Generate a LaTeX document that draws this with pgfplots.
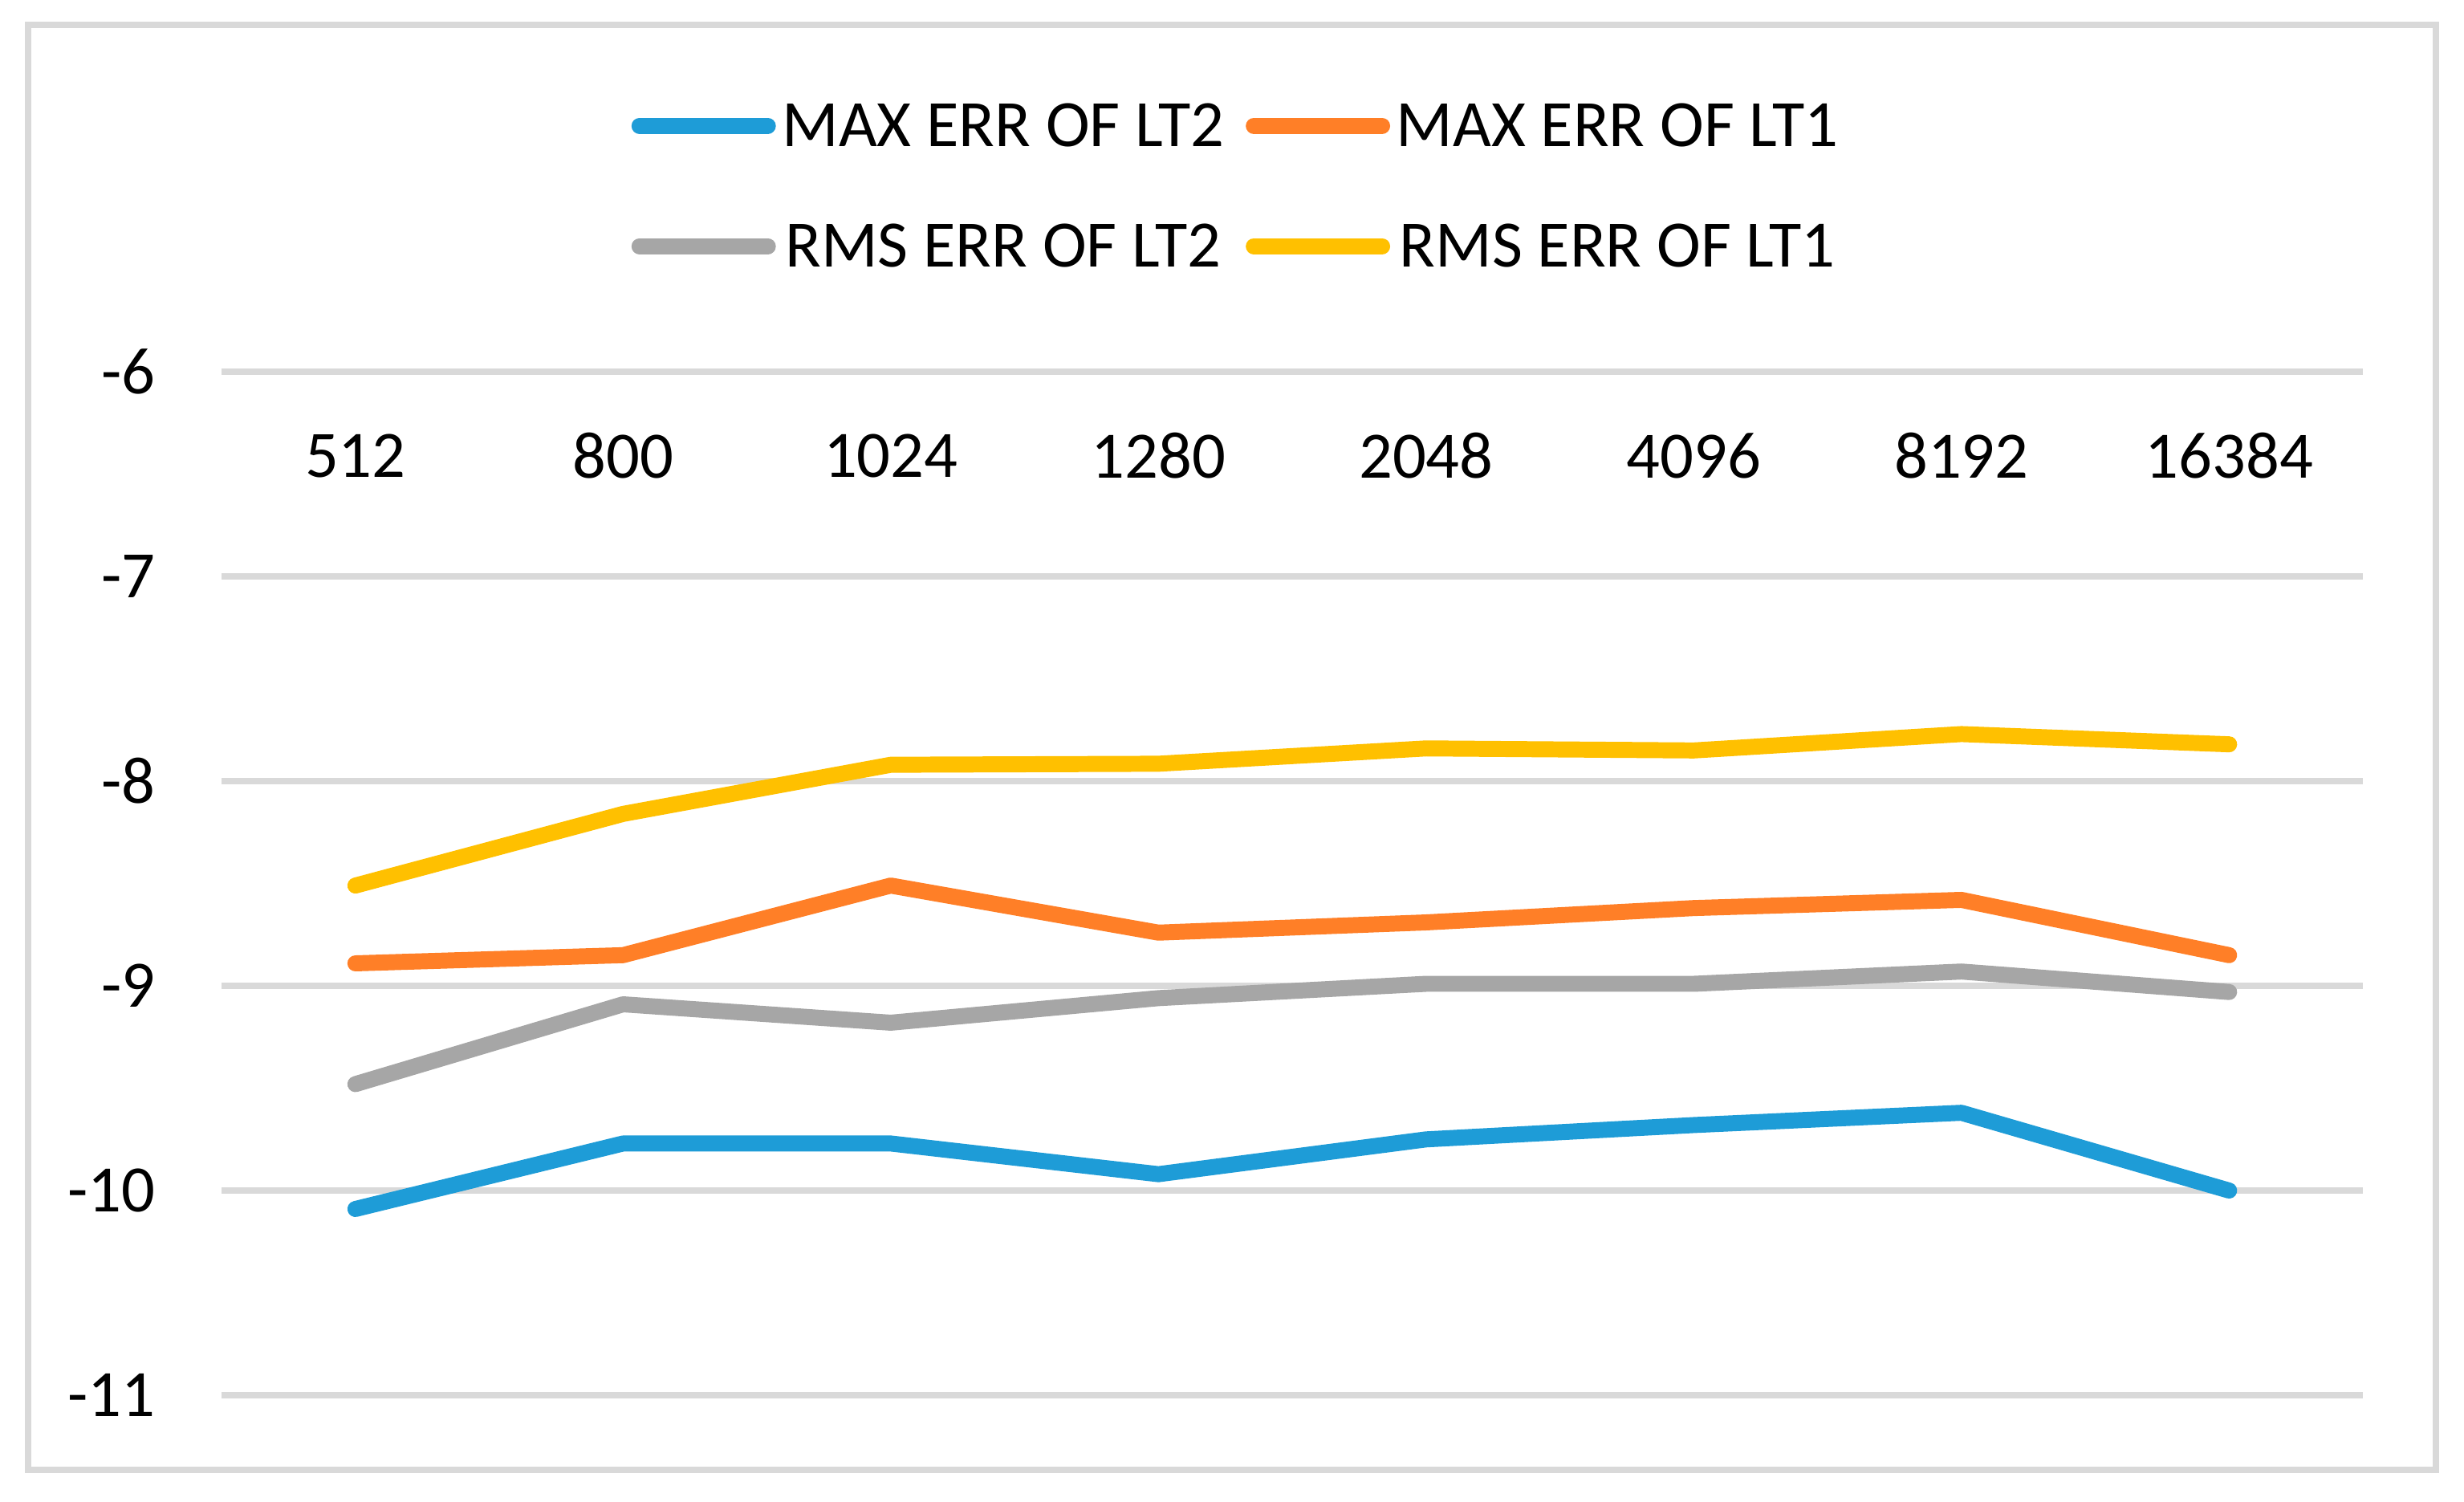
\documentclass[border=0pt]{standalone}
\usepackage{fontspec}
\setmainfont{Carlito}
\usepackage{pgfplots}
\pgfplotsset{compat=1.18}
\definecolor{cblue}{HTML}{1E9CD7}
\definecolor{corange}{HTML}{FF7F27}
\definecolor{cgray}{HTML}{A6A6A6}
\definecolor{cyellow}{HTML}{FFC000}
\definecolor{cgrid}{HTML}{D9D9D9}

\begin{document}
\begin{tikzpicture}
\useasboundingbox (-1.410cm,-0.679cm) rectangle (14.270cm,8.877cm);
\draw[cgrid, line width=1.1pt] (-1.231cm,-0.475cm) rectangle (14.092cm,8.718cm);
\begin{axis}[
  name=ax, at={(0,0)}, anchor=south west,
  scale only axis, width=13.627cm, height=6.512cm,
  xmin=-0.5, xmax=7.5, ymin=-11, ymax=-6,
  xtick={0,...,7},
  xticklabels={512,800,1024,1280,2048,4096,8192,16384},
  ytick={-11,-10,-9,-8,-7,-6},
  yticklabels={-11,-10,-9,-8,-7,-6},
  xticklabel pos=upper,
  axis line style={draw=none},
  major tick length=0pt,
  ymajorgrids, grid style={cgrid, line width=1.1pt},
  tick label style={font=\fontsize{12}{14}\selectfont, inner sep=0pt, text=black},
  xticklabel style={anchor=center, yshift=-0.536cm},
  yticklabel style={anchor=east, xshift=-0.414cm},
  legend columns=2,
  legend style={at={(0.1909,1.2643)}, anchor=north west, draw=none, fill=none,
    inner sep=0pt, font=\fontsize{12}{14}\selectfont, row sep=13.8pt,
    nodes={inner sep=0pt, text height=8pt, text depth=0pt},
    /tikz/every odd column/.append style={column sep=0.04cm},
    /tikz/every even column/.append style={column sep=0.138cm}},
  legend image code/.code={\draw[#1] (0cm,-0.25pt) -- (0.817cm,-0.25pt);},
  every axis plot/.append style={line width=2.9pt, line cap=round, line join=round},
  clip=false,
]
\addplot[cblue] coordinates {
  (0,-10.09) (1,-9.77) (2,-9.77) (3,-9.92) (4,-9.75) (5,-9.68) (6,-9.62) (7,-10.0)
};
\addlegendentry{MAX ERR OF LT2}
\addplot[corange] coordinates {
  (0,-8.89) (1,-8.85) (2,-8.51) (3,-8.74) (4,-8.69) (5,-8.62) (6,-8.58) (7,-8.85)
};
\addlegendentry{MAX ERR OF LT1}
\addplot[cgray] coordinates {
  (0,-9.48) (1,-9.09) (2,-9.18) (3,-9.06) (4,-8.99) (5,-8.99) (6,-8.93) (7,-9.03)
};
\addlegendentry{RMS ERR OF LT2}
\addplot[cyellow] coordinates {
  (0,-8.51) (1,-8.16) (2,-7.92) (3,-7.915) (4,-7.84) (5,-7.85) (6,-7.77) (7,-7.82)
};
\addlegendentry{RMS ERR OF LT1}
\end{axis}
\end{tikzpicture}
\end{document}
